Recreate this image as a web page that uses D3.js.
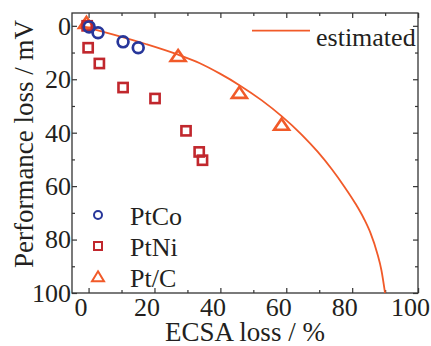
<!DOCTYPE html>
<html>
<head>
<meta charset="utf-8">
<style>
  body { margin: 0; background: #fff; }
  text { font-family: "Liberation Serif", "Times New Roman", serif; fill: #231f20; }
</style>
</head>
<body>
<div id="chart"></div>
<script src="https://d3js.org/d3.v7.min.js"></script>
<script>

// data
var ptcoX = [2.6, 5.3, 12.9, 17.5]
var ptcoY = [0.4, 2.6, 6.0, 8.2]

var ptniX = [2.0, 2.3, 5.7, 12.9, 22.6, 32.0, 36.0, 37.0]
var ptniY = [0.0, 8.2, 14.1, 23.1, 27.2, 39.3, 47.2, 50.3]

var ptcX = [1.8, 29.6, 48.2, 61.0]
var ptcY = [-0.6, 11.8, 25.6, 37.5]

// estimated curve
var estX = [0, 10, 20, 29.6, 36.2, 42.3, 48.2, 55, 61, 67, 72, 76.2, 80, 83.3, 86, 88, 90, 91.3, 92.4]
var estY = [0, 3.3, 6.9, 10.8, 14.0, 17.9, 22.2, 27.9, 33.8, 40.6, 47.2, 53.6, 60.1, 66.3, 72.2, 77.6, 85.0, 91.5, 100]

var xTicks = [0, 10, 20, 30, 40, 50, 60, 70, 80, 90, 100]
var yTicks = [0, 10, 20, 30, 40, 50, 60, 70, 80, 90, 100]

var legendNames = ["PtCo", "PtNi", "Pt/C"]

// layout
var width = 431,
    height = 346
var plotL = 72, plotR = 418, plotT = 13, plotB = 293

var blue = "#27369a", red = "#c1272d", orange = "#f15a29"

var svg = d3.select("#chart").append("svg")
    .attr("width", width)
    .attr("height", height)

var x = d3.scaleLinear().domain([-2.6, 102.4]).range([plotL, plotR])
var y = d3.scaleLinear().domain([-4.8, 100]).range([plotT, plotB])

// frame
svg.append("rect")
    .attr("x", plotL).attr("y", plotT)
    .attr("width", plotR - plotL).attr("height", plotB - plotT)
    .attr("fill", "none").attr("stroke", "#333").attr("stroke-width", 1.3)

function major(d) { return d % 20 === 0 }

// axes: ticks inward, every 10, labels every 20
function styleAxis(g) {
  g.select(".domain").remove()
  g.selectAll(".tick line").attr("stroke", "#333").attr("stroke-width", 1.2)
  g.selectAll(".tick text").style("font-size", "26px").attr("fill", "#231f20")
}

var xb = svg.append("g").attr("transform", "translate(0," + plotB + ")")
    .call(d3.axisBottom(x).tickValues(xTicks).tickFormat(function(d){ return major(d) ? d : "" })
        .tickSize(-5).tickPadding(5))
    .call(styleAxis)
// in the original the tick marks sit a few pixels right of their labels
xb.selectAll(".tick line").attr("transform", "translate(8,0)")
    .attr("y2", function(d){ return major(d) ? -5 : -3 })

var xt = svg.append("g").attr("transform", "translate(0," + plotT + ")")
    .call(d3.axisTop(x).tickValues(xTicks).tickFormat("").tickSize(-5))
    .call(styleAxis)
xt.selectAll(".tick line").attr("transform", "translate(8,0)")
    .attr("y2", function(d){ return major(d) ? 5 : 3 })

var yl = svg.append("g").attr("transform", "translate(" + plotL + ",0)")
    .call(d3.axisLeft(y).tickValues(yTicks).tickFormat(function(d){ return major(d) ? d : "" })
        .tickSize(-5).tickPadding(1))
    .call(styleAxis)
yl.selectAll(".tick line").attr("x2", function(d){ return major(d) ? 5 : 3 })

var yr = svg.append("g").attr("transform", "translate(" + plotR + ",0)")
    .call(d3.axisRight(y).tickValues(yTicks).tickFormat("").tickSize(-5))
    .call(styleAxis)
yr.selectAll(".tick line").attr("x2", function(d){ return major(d) ? -5 : -3 })

// axis titles
svg.append("text")
    .attr("x", 245).attr("y", 341)
    .attr("text-anchor", "middle")
    .style("font-size", "27px")
    .text("ECSA loss / %")

svg.append("text")
    .attr("transform", "translate(33,144) rotate(-90)")
    .attr("text-anchor", "middle")
    .style("font-size", "27px")
    .text("Performance loss / mV")

// estimated curve
var line = d3.line()
    .x(function(d){ return x(d[0]) })
    .y(function(d){ return y(d[1]) })
    .curve(d3.curveMonotoneX)

svg.append("path")
    .datum(d3.zip(estX, estY))
    .attr("d", line)
    .attr("fill", "none")
    .attr("stroke", orange)
    .attr("stroke-width", 1.8)

// marker shapes
function triPath(w, h) {
  return "M0," + (-h * 2 / 3) + "L" + (w / 2) + "," + (h / 3) + "L" + (-w / 2) + "," + (h / 3) + "Z"
}

// Pt/C triangles
svg.selectAll(".ptc")
    .data(d3.zip(ptcX, ptcY))
    .enter().append("path")
    .attr("class", "ptc")
    .attr("transform", function(d){ return "translate(" + x(d[0]) + "," + y(d[1]) + ")" })
    .attr("d", triPath(15, 11))
    .attr("fill", "none").attr("stroke", orange).attr("stroke-width", 2.6)

// PtNi squares
svg.selectAll(".ptni")
    .data(d3.zip(ptniX, ptniY))
    .enter().append("rect")
    .attr("class", "ptni")
    .attr("x", function(d){ return x(d[0]) - 4.6 })
    .attr("y", function(d){ return y(d[1]) - 4.6 })
    .attr("width", 9.2).attr("height", 9.2)
    .attr("fill", "none").attr("stroke", red).attr("stroke-width", 2.6)

// PtCo circles
svg.selectAll(".ptco")
    .data(d3.zip(ptcoX, ptcoY))
    .enter().append("circle")
    .attr("class", "ptco")
    .attr("cx", function(d){ return x(d[0]) })
    .attr("cy", function(d){ return y(d[1]) })
    .attr("r", 5.4)
    .attr("fill", "none").attr("stroke", blue).attr("stroke-width", 2.7)

// legend for the curve
svg.append("line")
    .attr("x1", 252).attr("x2", 310).attr("y1", 30.7).attr("y2", 30.7)
    .attr("stroke", orange).attr("stroke-width", 1.8)
svg.append("text")
    .attr("x", 316).attr("y", 46)
    .style("font-size", "26px")
    .text("estimated")

// legend for the markers
var lg = svg.append("g")
legendNames.forEach(function(name, i) {
  var cy = 215 + i * 31
  if (i === 0) {
    lg.append("circle").attr("cx", 98).attr("cy", cy).attr("r", 4)
      .attr("fill", "none").attr("stroke", blue).attr("stroke-width", 2)
  } else if (i === 1) {
    lg.append("rect").attr("x", 94).attr("y", cy - 4).attr("width", 8).attr("height", 8)
      .attr("fill", "none").attr("stroke", red).attr("stroke-width", 2)
  } else {
    lg.append("path").attr("transform", "translate(98," + (cy + 1) + ")")
      .attr("d", triPath(12, 10))
      .attr("fill", "none").attr("stroke", orange).attr("stroke-width", 2)
  }
  lg.append("text")
    .attr("x", 130).attr("y", cy + 10)
    .style("font-size", "26px")
    .text(name)
})

</script>
</body>
</html>
